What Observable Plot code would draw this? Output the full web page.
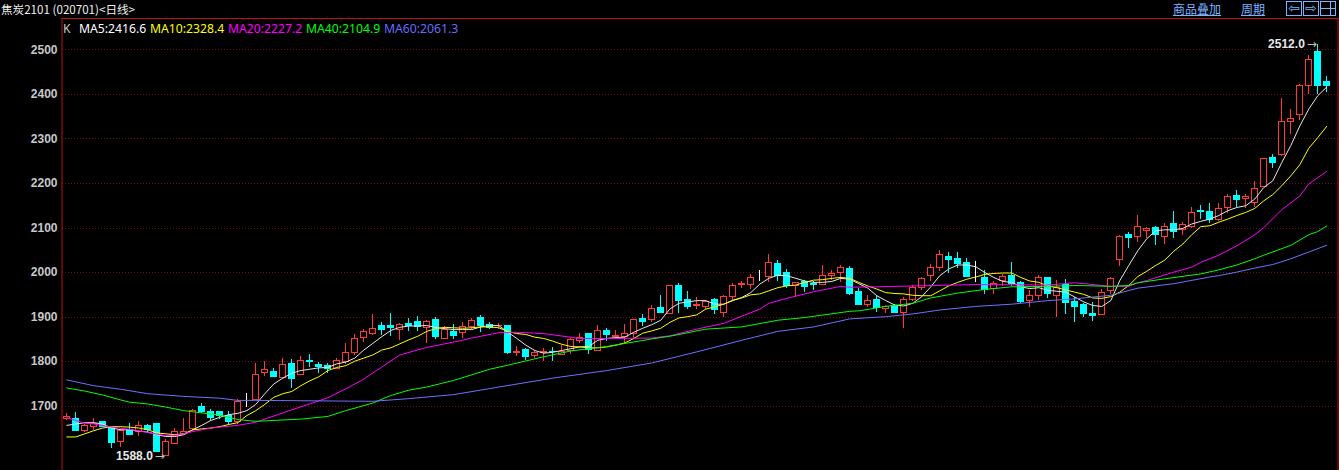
<!DOCTYPE html>
<html>
<head>
<meta charset="utf-8">
<script src="https://cdn.jsdelivr.net/npm/d3@7"></script>
<script src="https://cdn.jsdelivr.net/npm/@observablehq/plot@0.6"></script>
<style>
html,body{margin:0;padding:0;background:#000;overflow:hidden}
#wrap{position:relative;width:1339px;height:470px;background:#000}
#chart{position:absolute;left:0;top:18px;z-index:1}
#chart svg{display:block}
.t{position:absolute;white-space:nowrap;line-height:14px;z-index:2}
#title{left:1px;top:2px;color:#f0f0f0;font:11.6px "Noto Sans CJK SC","Liberation Sans",sans-serif;line-height:14px}
.leg{top:21px;font:12.2px "Noto Sans","Liberation Sans",sans-serif;line-height:15px}
.link{top:1px;color:#78b4ff;font:12px "Noto Sans CJK SC",sans-serif;text-decoration:underline;line-height:15px}
.btn{position:absolute;top:1px;width:14px;height:13px;border:1px solid #78b4ff;color:#78b4ff;font:14px/12px "DejaVu Sans",sans-serif;text-align:center;z-index:2}
</style>
</head>
<body>
<div id="wrap">
  <div id="title" class="t"></div>
  <div id="legend"></div>
  <div id="links"></div>
  <div id="chart"></div>
</div>
<script>
const titleText = "焦炭2101 (020701)<日线>";
const legendNames = ["K","MA5:2416.6","MA10:2328.4","MA20:2227.2","MA40:2104.9","MA60:2061.3"];
const legendLefts = [63,79,150,228,306,384];
const legendColors = ["#c8c8c8","#ffffff","#ffff00","#ff00ff","#00ff00","#6a6aff"];
const linkNames = ["商品叠加","周期"];
const linkLefts = [1173,1241];
const buttonGlyphs = ["⇦","⇨",""];
const buttonLefts = [1286,1303,1320];

const yTicks = [1700,1800,1900,2000,2100,2200,2300,2400,2500];

const opens = [1671,1671,1644,1653,1664,1651,1619,1647,1643,1656,
1661,1588,1615,1638,1648,1699,1688,1687,1677,1665,
1712,1713,1775,1777,1763,1795,1770,1802,1793,1790,
1784,1799,1820,1853,1862,1879,1879,1871,1885,1890,
1876,1894,1850,1866,1864,1878,1899,1883,1880,1879,
1819,1827,1813,1820,1822,1815,1825,1846,1861,1824,
1869,1856,1856,1862,1895,1893,1921,1906,1969,1939,
1924,1923,1938,1910,1944,1971,1973,1992,1990,2020,
1999,1969,1978,1975,1971,1993,1998,2008,1957,1928,
1939,1919,1925,1910,1938,1966,1993,2011,2035,2031,
2021,1981,1988,1964,1980,1993,1976,1937,1947,1988,
1947,1972,1933,1928,1908,1904,1958,2028,2085,2080,
2093,2100,2080,2108,2096,2102,2139,2136,2118,2145,
2172,2164,2155,2193,2257,2264,2339,2353,2419,2495,2428];
const closes = [1676,1645,1656,1660,1654,1618,1644,1635,1656,1647,
1597,1620,1642,1642,1690,1686,1673,1678,1664,1710,
1712,1770,1781,1766,1793,1760,1802,1799,1788,1784,
1801,1820,1851,1866,1873,1872,1875,1882,1880,1878,
1890,1855,1872,1857,1878,1892,1879,1876,1881,1819,
1821,1810,1819,1821,1821,1822,1849,1853,1827,1869,
1859,1858,1862,1894,1890,1918,1910,1969,1937,1923,
1928,1934,1917,1945,1969,1975,1987,1992,2021,1993,
1969,1976,1968,1971,1992,1997,2010,1952,1928,1936,
1920,1922,1909,1938,1966,1985,2010,2040,2028,2020,
1989,1981,1960,1975,1990,1974,1934,1947,1987,1951,
1966,1931,1922,1906,1902,1955,1986,2080,2077,2102,
2097,2084,2102,2090,2106,2134,2135,2119,2143,2169,
2163,2169,2187,2255,2246,2338,2344,2418,2478,2419,2419];
const highs = [1684,1685,1660,1672,1666,1653,1647,1661,1666,1658,
1661,1625,1651,1672,1692,1706,1692,1688,1687,1716,
1729,1796,1800,1784,1808,1804,1811,1816,1799,1795,
1808,1840,1862,1872,1905,1889,1907,1885,1896,1901,
1892,1898,1878,1883,1888,1897,1903,1888,1885,1879,
1834,1829,1825,1829,1831,1837,1852,1863,1861,1881,
1874,1869,1883,1894,1906,1925,1948,1972,1976,1958,
1943,1938,1942,1948,1976,1980,1995,2004,2041,2028,
2007,1978,1983,1980,2015,2005,2016,2013,1965,1948,
1949,1927,1929,1943,1972,1990,2017,2049,2044,2046,
2032,2024,2004,1981,1996,2022,1980,1959,1993,1989,
1982,1984,1943,1930,1933,1961,1988,2083,2091,2128,
2102,2103,2111,2136,2113,2145,2150,2156,2155,2176,
2184,2175,2204,2256,2264,2390,2367,2421,2488,2512,2441];
const lows = [1668,1645,1641,1645,1653,1606,1608,1634,1633,1639,
1597,1588,1615,1636,1645,1683,1666,1671,1657,1659,
1696,1713,1766,1765,1761,1740,1769,1787,1774,1774,
1784,1793,1814,1843,1859,1859,1857,1847,1868,1868,
1841,1849,1849,1849,1852,1872,1866,1872,1872,1815,
1812,1802,1807,1800,1801,1815,1817,1840,1817,1824,
1846,1851,1840,1852,1880,1887,1908,1906,1907,1916,
1916,1918,1905,1899,1937,1964,1963,1979,1978,1980,
1964,1946,1955,1959,1971,1983,1978,1948,1926,1921,
1910,1909,1907,1874,1934,1959,1980,2002,1998,2008,
1989,1978,1951,1951,1969,1969,1931,1921,1937,1941,
1900,1906,1889,1898,1891,1904,1951,2014,2055,2067,
2077,2061,2064,2077,2083,2100,2120,2110,2115,2133,
2147,2144,2145,2191,2234,2261,2309,2342,2400,2399,2404];

const ma5 = [1657,1660,1663,1663,1660,1651,1647,1647,1644,1642,
1636,1632,1632,1636,1647,1657,1668,1675,1681,1684,
1690,1704,1728,1750,1763,1774,1780,1783,1786,1787,
1795,1799,1808,1826,1841,1856,1870,1877,1880,1880,
1881,1877,1874,1872,1872,1872,1878,1881,1881,1866,
1852,1837,1825,1819,1821,1825,1829,1833,1834,1848,
1852,1854,1855,1866,1875,1883,1893,1918,1931,1934,
1937,1937,1929,1929,1937,1944,1955,1974,1987,1994,
1993,1987,1981,1978,1978,1980,1987,1985,1975,1965,
1948,1937,1927,1925,1931,1946,1968,1993,2008,2017,
2017,2013,2000,1989,1980,1978,1968,1964,1966,1960,
1958,1956,1945,1934,1926,1924,1937,1982,2016,2049,
2076,2094,2096,2096,2099,2109,2115,2120,2128,2139,
2146,2150,2165,2191,2206,2247,2285,2329,2367,2397,2416.6];
const ma10 = [1631,1631,1638,1645,1651,1654,1654,1653,1651,1647,
1640,1638,1636,1638,1647,1649,1651,1654,1659,1663,
1679,1690,1704,1720,1728,1733,1746,1757,1766,1780,
1787,1791,1801,1808,1815,1826,1831,1840,1849,1857,
1868,1874,1877,1876,1875,1876,1878,1878,1876,1868,
1863,1861,1855,1852,1846,1839,1834,1833,1831,1831,
1833,1837,1842,1852,1864,1869,1875,1888,1898,1901,
1905,1918,1923,1929,1938,1943,1950,1952,1959,1966,
1970,1972,1978,1983,1984,1987,1989,1987,1978,1970,
1963,1955,1953,1952,1949,1948,1948,1959,1970,1978,
1985,1990,1996,1998,1999,1999,1989,1981,1978,1970,
1966,1961,1956,1951,1943,1942,1946,1956,1971,1991,
2003,2016,2028,2048,2064,2085,2103,2105,2113,2120,
2128,2135,2144,2161,2175,2195,2217,2242,2279,2303,2328.4];

const ma20At = [0,1,2,3,5,7,9,11,12,14,16,19,21,25,27,29,31,33,35,37,40,43,45,48,50,53,57,61,65,67,70,73,77,78,80,83,86,87,90,101,109,112,116,118,119,120,123,125,126,128,130,132,133,135,137,138,140];
const ma20 = [1674,1668,1662,1660,1653,1648,1641,1634,1634,1643,1651,1657,1664,1692,1705,1719,1739,1761,1788,1815,1832,1844,1853,1865,1866,1863,1852,1852,1853,1858,1873,1886,1918,1931,1942,1957,1969,1967,1968,1973,1972,1977,1969,1969,1977,1982,2001,2012,2023,2039,2060,2085,2101,2141,2172,2199,2227.2];
const ma40At = [0,2,4,6,7,9,11,13,15,17,19,21,26,29,31,34,36,38,40,43,47,49,53,56,60,65,67,71,75,79,82,87,88,91,94,96,99,102,105,109,112,116,118,119,122,126,128,130,132,133,136,138,139,140];
const ma40 = [1741,1734,1725,1714,1709,1705,1698,1690,1685,1680,1670,1666,1671,1677,1690,1707,1724,1736,1743,1758,1783,1792,1811,1824,1834,1851,1857,1873,1878,1893,1899,1913,1914,1924,1931,1943,1954,1962,1968,1969,1971,1969,1971,1977,1986,1997,2006,2017,2031,2039,2061,2085,2092,2104.9];
const ma60At = [0,3,6,9,13,17,19,21,34,38,43,48,54,60,65,70,75,79,83,87,91,94,97,101,105,109,112,116,119,123,127,128,130,132,134,136,138,140];
const ma60 = [1759,1746,1738,1728,1722,1718,1713,1713,1711,1717,1726,1743,1763,1780,1797,1822,1848,1868,1878,1896,1901,1907,1916,1924,1929,1937,1941,1949,1965,1975,1990,1993,2001,2010,2018,2031,2046,2061.3];

const lowMark = {i:11, price:1588, label:"1588.0"};
const highMark = {i:139, price:2512, label:"2512.0"};

const UP = "#ff3838", DOWN = "#00ffff", FLAT = "#ffffff";
const candles = opens.map((o,i)=>({i,open:o,close:closes[i],high:highs[i],low:lows[i],
  color: closes[i]>o ? UP : closes[i]<o ? DOWN : FLAT}));
const bodyHalf = 0.335;
const lineOf = (xs,ys,stroke)=>Plot.line(ys,{x:(d,k)=>xs?xs[k]:k,y:d=>d,stroke,strokeWidth:1,curve:"linear"});

const plot = Plot.plot({
  width:1339, height:452,
  marginLeft:61.5, marginRight:1.5, marginTop:0, marginBottom:0,
  style:{background:"#000",fontFamily:"'Liberation Sans',Arial,sans-serif",overflow:"visible"},
  color:{type:"identity"},
  x:{domain:[0,140],range:[66.3,1326.3],axis:null},
  y:{domain:[1700,2500],range:[387.7,31.3],axis:null},
  marks:[
    Plot.ruleY(yTicks,{stroke:"#741010",strokeWidth:1,strokeDasharray:"1,2",shapeRendering:"crispEdges"}),
    Plot.frame({anchor:"left",stroke:"#c01010"}),
    Plot.frame({anchor:"right",stroke:"#c01010"}),
    Plot.frame({anchor:"top",stroke:"#c01010"}),
    Plot.axisY(yTicks,{anchor:"left",tickSize:0,tickPadding:4.5,label:null,tickFormat:"d",fill:"#c8c8c8",fontSize:12,fontWeight:"bold"}),
    Plot.ruleX(candles,{x:"i",y1:"low",y2:"high",stroke:"color",strokeWidth:1,shapeRendering:"crispEdges"}),
    Plot.rect(candles,{x1:d=>d.i-bodyHalf,x2:d=>d.i+bodyHalf,
      y1:d=>Math.min(d.open,d.close),y2:d=>Math.max(d.open,d.close),
      fill:d=>d.color===UP?"#000000":d.color,stroke:"color",strokeWidth:1,shapeRendering:"crispEdges"}),
    lineOf(null,ma5,"#e8e8e8"),
    lineOf(null,ma10,"#ffff00"),
    lineOf(ma20At,ma20,"#ff00ff"),
    lineOf(ma40At,ma40,"#00ff00"),
    lineOf(ma60At,ma60,"#7070ff"),
    Plot.text([lowMark,highMark],{x:"i",y:"price",text:"label",textAnchor:"end",dx:-13,fill:"#e8e8e8",fontSize:12,fontWeight:"bold"}),
    Plot.text([lowMark,highMark],{x:"i",y:"price",text:()=>"→",textAnchor:"end",dx:-1,fill:"#c0c0c0",fontSize:12,fontFamily:"DejaVu Sans"})
  ]
});
document.getElementById("chart").appendChild(plot);

document.getElementById("title").textContent = titleText;
const mk=(parent,cls,txt,left,color)=>{const e=document.createElement("div");e.className=cls;e.textContent=txt;e.style.left=left+"px";if(color)e.style.color=color;parent.appendChild(e);return e;};
const legend=document.getElementById("legend");
legendNames.forEach((n,i)=>mk(legend,"t leg",n,legendLefts[i],legendColors[i]));
const links=document.getElementById("links");
linkNames.forEach((n,i)=>mk(links,"t link",n,linkLefts[i]));
buttonGlyphs.forEach((g,i)=>{
  const b=mk(links,"btn",g,buttonLefts[i]);
  if(!g){b.style.background="linear-gradient(#000 6px,#78b4ff 6px,#78b4ff 7px,#000 7px)";
    const v=document.createElement("div");v.style.cssText="position:absolute;right:4px;top:0;width:1px;height:13px;background:#78b4ff";b.appendChild(v);}
});
</script>
</body>
</html>
